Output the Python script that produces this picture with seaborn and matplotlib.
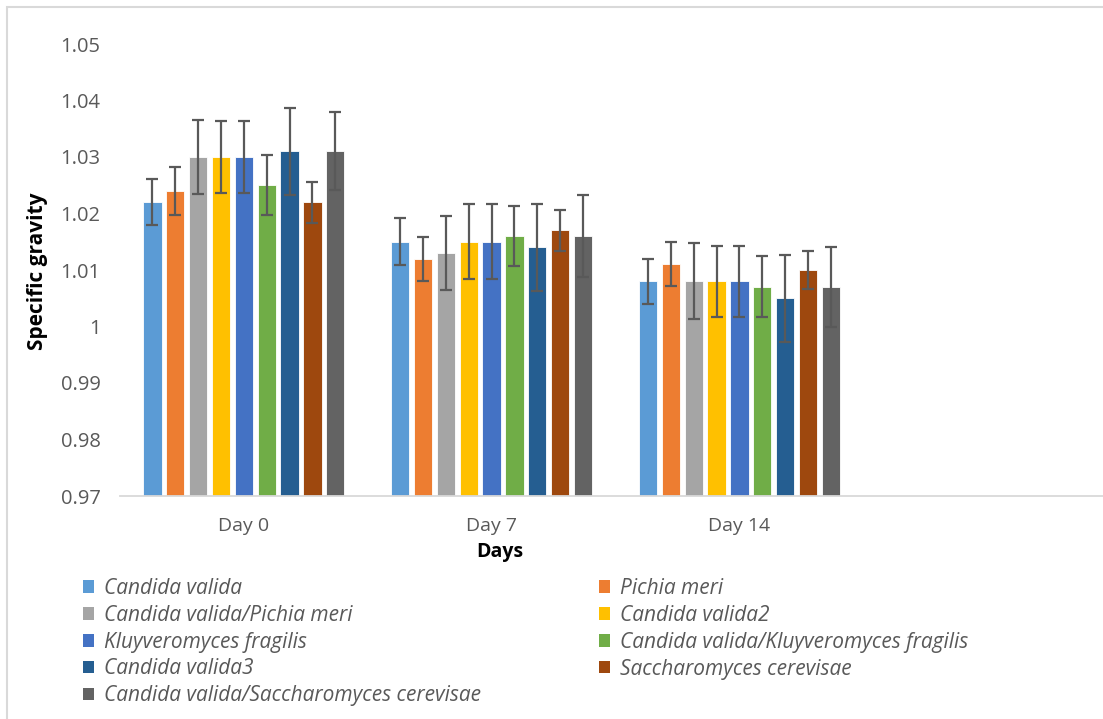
import matplotlib
matplotlib.use("Agg")
import matplotlib.pyplot as plt
from matplotlib.patches import Patch, Rectangle
import numpy as np
import pandas as pd
import seaborn as sns

# ---- data -------------------------------------------------------------
days = ["Day 0", "Day 7", "Day 14"]
strains = [
    "Candida valida",
    "Pichia meri",
    "Candida valida/Pichia meri",
    "Candida valida2",
    "Kluyveromyces fragilis",
    "Candida valida/Kluyveromyces fragilis",
    "Candida valida3",
    "Saccharomyces cerevisae",
    "Candida valida/Saccharomyces cerevisae",
]
# mean specific gravity per strain, in day order
sg_candida_valida = [1.022, 1.015, 1.008]
sg_pichia_meri = [1.024, 1.012, 1.011]
sg_cv_pichia = [1.030, 1.013, 1.008]
sg_candida_valida2 = [1.030, 1.015, 1.008]
sg_kluyveromyces = [1.030, 1.015, 1.008]
sg_cv_kluyveromyces = [1.025, 1.016, 1.007]
sg_candida_valida3 = [1.031, 1.014, 1.005]
sg_saccharomyces = [1.022, 1.017, 1.010]
sg_cv_saccharomyces = [1.031, 1.016, 1.007]
# standard deviations
sd_candida_valida = [0.0041, 0.0042, 0.0040]
sd_pichia_meri = [0.0043, 0.0039, 0.0039]
sd_cv_pichia = [0.0066, 0.0066, 0.0067]
sd_candida_valida2 = [0.0064, 0.0066, 0.0063]
sd_kluyveromyces = [0.0064, 0.0066, 0.0063]
sd_cv_kluyveromyces = [0.0053, 0.0053, 0.0054]
sd_candida_valida3 = [0.0077, 0.0077, 0.0077]
sd_saccharomyces = [0.0036, 0.0036, 0.0033]
sd_cv_saccharomyces = [0.0069, 0.0072, 0.0070]

y_ticks = [0.97, 0.98, 0.99, 1.00, 1.01, 1.02, 1.03, 1.04, 1.05]
y_tick_labels = ["0.97", "0.98", "0.99", "1", "1.01", "1.02", "1.03", "1.04", "1.05"]

means = [sg_candida_valida, sg_pichia_meri, sg_cv_pichia, sg_candida_valida2,
         sg_kluyveromyces, sg_cv_kluyveromyces, sg_candida_valida3,
         sg_saccharomyces, sg_cv_saccharomyces]
sds = [sd_candida_valida, sd_pichia_meri, sd_cv_pichia, sd_candida_valida2,
       sd_kluyveromyces, sd_cv_kluyveromyces, sd_candida_valida3,
       sd_saccharomyces, sd_cv_saccharomyces]

colors = ["#5B9BD5", "#ED7D31", "#A5A5A5", "#FFC000", "#4472C4",
          "#70AD47", "#255E91", "#9E480E", "#636363"]

rows = []
for s, m in zip(strains, means):
    for d, v in zip(days, m):
        rows.append({"day": d, "strain": s, "sg": v})
df = pd.DataFrame(rows)

# ---- figure -----------------------------------------------------------
sns.set_style("white")
plt.rcParams["font.family"] = ["Open Sans", "DejaVu Sans"]
text_grey = "#595959"

fig = plt.figure(figsize=(11.03, 7.19), dpi=100)
ax = fig.add_axes([120 / 1103, 1 - 496 / 719, 991 / 1103, 452 / 719])

sns.barplot(data=df, x="day", y="sg", hue="strain", order=days,
            hue_order=strains, palette=colors, width=0.83, gap=0.2,
            errorbar=None, legend=False, ax=ax, saturation=1,
            edgecolor="white", linewidth=0.6)

# error bars at each bar centre
for cont, sd in zip(ax.containers, sds):
    xs = [p.get_x() + p.get_width() / 2 for p in cont.patches]
    hs = [p.get_height() for p in cont.patches]
    ax.errorbar(xs, hs, yerr=sd, fmt="none", ecolor=text_grey,
                elinewidth=1.6, capsize=4.6, capthick=1.6, zorder=5)

ax.set_xlim(-0.5, 3.5)
ax.set_ylim(0.97, 1.05)
ax.set_yticks(y_ticks)
ax.set_yticklabels(y_tick_labels)
ax.tick_params(axis="y", length=0, pad=14, labelsize=14.5, labelcolor=text_grey)
ax.tick_params(axis="x", length=0, pad=15, labelsize=14, labelcolor=text_grey)
ax.set_xlabel("")
ax.set_ylabel("")
for side in ["top", "right", "left"]:
    ax.spines[side].set_visible(False)
ax.spines["bottom"].set_color("#d9d9d9")
ax.spines["bottom"].set_linewidth(1.3)

fig.text(38 / 1103, 1 - 271 / 719, "Specific gravity", rotation=90,
         ha="center", va="center", fontsize=15, fontweight="bold", color="black")
fig.text(500 / 1103, 1 - 552 / 719, "Days", ha="center", va="center",
         fontsize=14, fontweight="bold", color="black")

# chart frame
fig.patches.append(Rectangle((7 / 1103, -0.1), 1.2, 1 - 7 / 719 + 0.1,
                             transform=fig.transFigure, fill=False,
                             edgecolor="#d9d9d9", linewidth=1.5))

# legend in two columns, filled row by row
handles = [Patch(facecolor=c, edgecolor="none") for c in colors]
leg_kw = dict(frameon=False, loc="upper left", borderaxespad=0, borderpad=0,
              handlelength=0.55, handleheight=0.55, handletextpad=0.45,
              labelspacing=0.28, prop={"style": "italic", "size": 15},
              labelcolor=text_grey)
left_idx = [0, 2, 4, 6, 8]
right_idx = [1, 3, 5, 7]
fig.legend([handles[i] for i in left_idx], [strains[i] for i in left_idx],
           bbox_to_anchor=(83 / 1103, 1 - 578 / 719), **leg_kw)
fig.legend([handles[i] for i in right_idx], [strains[i] for i in right_idx],
           bbox_to_anchor=(599 / 1103, 1 - 578 / 719), **leg_kw)

fig.savefig("out.png", dpi=100)
